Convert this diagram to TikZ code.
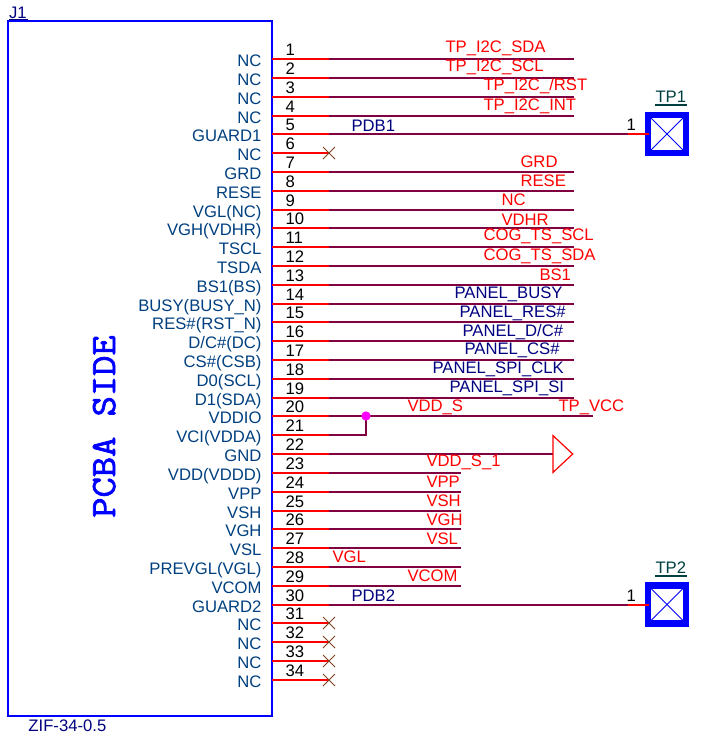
\documentclass[tikz,border=0pt]{standalone}
\usepackage{fontspec}
\setmainfont{Liberation Sans}
\newfontfamily\pcbafont[FakeBold=2.2,FakeStretch=1.11]{Latin Modern Mono}
\usetikzlibrary{shapes.misc}
\definecolor{wirecol}{RGB}{128,0,64}
\definecolor{namecol}{RGB}{0,64,128}
\definecolor{netnavy}{RGB}{0,0,128}
\definecolor{tpcol}{RGB}{0,64,64}
\definecolor{nccol}{RGB}{128,64,32}
\definecolor{dotcol}{RGB}{255,0,255}
\tikzset{every picture/.style={line width=0.75pt}}
\tikzset{
  pintxt/.style={inner sep=0pt,font=\fontsize{12.5}{14}\selectfont},
  pinname/.style={pintxt,anchor=base east,text=namecol},
  pinnum/.style={pintxt,anchor=base west,text=black},
  netred/.style={pintxt,anchor=base west,text=red},
  netblue/.style={pintxt,anchor=base west,text=netnavy},
  pinline/.style={draw=red,line width=1.5pt},
  wire/.style={draw=wirecol,line width=1.5pt},
  ncmark/.style={cross out,draw=nccol,line width=0.6pt,minimum size=9pt,inner sep=0pt,outer sep=0pt},
  tpbox/.style={draw=blue,line width=4.9pt,minimum size=28.6pt,inner sep=0pt,outer sep=0pt},
  tpcross/.style={draw=blue,line width=0.75pt},
}

\begin{document}
\begin{tikzpicture}[x=0.75pt,y=0.75pt,yscale=-1,xscale=1]
\useasboundingbox (0,0) rectangle (709,736);

%Shape: Connector body
\node [draw=blue,line width=1.7pt,minimum width=198pt,minimum height=521.25pt,inner sep=0pt,outer sep=0pt] (J1box) at (140,368.5) {};
\node [inner sep=0pt,rotate=90,anchor=base,text=blue,font=\pcbafont\fontsize{26.6}{30}\selectfont] (side) at (115,426.5) {PCBA SIDE};

% Text Node
\node [pintxt,anchor=base west,text=netnavy] (refJ1) at (8.5,18) {J1};
\draw [netnavy,line width=0.9pt] (refJ1.base west) ++(0,1.8) -- ++(19,0);
\node [pintxt,anchor=base west,text=netnavy] (zif) at (28,731.5) {ZIF-34-0.5};

%Pin ends
\coordinate (a1) at (272,59); \coordinate (b1) at (329,59); \coordinate (c1) at (574,59);
\coordinate (a2) at (272,78); \coordinate (b2) at (329,78); \coordinate (c2) at (574,78);
\coordinate (a3) at (272,97); \coordinate (b3) at (329,97); \coordinate (c3) at (574,97);
\coordinate (a4) at (272,116); \coordinate (b4) at (329,116); \coordinate (c4) at (574,116);
\coordinate (a5) at (272,134); \coordinate (b5) at (329,134); \coordinate (c5) at (628,134);
\coordinate (a6) at (272,153); \coordinate (b6) at (329,153);
\coordinate (a7) at (272,172); \coordinate (b7) at (329,172); \coordinate (c7) at (574,172);
\coordinate (a8) at (272,191); \coordinate (b8) at (329,191); \coordinate (c8) at (574,191);
\coordinate (a9) at (272,210); \coordinate (b9) at (329,210); \coordinate (c9) at (574,210);
\coordinate (a10) at (272,228); \coordinate (b10) at (329,228); \coordinate (c10) at (574,228);
\coordinate (a11) at (272,247); \coordinate (b11) at (329,247); \coordinate (c11) at (574,247);
\coordinate (a12) at (272,266); \coordinate (b12) at (329,266); \coordinate (c12) at (574,266);
\coordinate (a13) at (272,285); \coordinate (b13) at (329,285); \coordinate (c13) at (574,285);
\coordinate (a14) at (272,304); \coordinate (b14) at (329,304); \coordinate (c14) at (574,304);
\coordinate (a15) at (272,322); \coordinate (b15) at (329,322); \coordinate (c15) at (574,322);
\coordinate (a16) at (272,341); \coordinate (b16) at (329,341); \coordinate (c16) at (574,341);
\coordinate (a17) at (272,360); \coordinate (b17) at (329,360); \coordinate (c17) at (574,360);
\coordinate (a18) at (272,379); \coordinate (b18) at (329,379); \coordinate (c18) at (574,379);
\coordinate (a19) at (272,398); \coordinate (b19) at (329,398); \coordinate (c19) at (574,398);
\coordinate (a20) at (272,416); \coordinate (b20) at (329,416); \coordinate (c20) at (592.5,416);
\coordinate (a21) at (272,435); \coordinate (b21) at (329,435); \coordinate (c21) at (366,435);
\coordinate (a22) at (272,454); \coordinate (b22) at (329,454); \coordinate (c22) at (553,454);
\coordinate (a23) at (272,473); \coordinate (b23) at (329,473); \coordinate (c23) at (461,473);
\coordinate (a24) at (272,492); \coordinate (b24) at (329,492); \coordinate (c24) at (461,492);
\coordinate (a25) at (272,511); \coordinate (b25) at (329,511); \coordinate (c25) at (461,511);
\coordinate (a26) at (272,529); \coordinate (b26) at (329,529); \coordinate (c26) at (461,529);
\coordinate (a27) at (272,548); \coordinate (b27) at (329,548); \coordinate (c27) at (461,548);
\coordinate (a28) at (272,567); \coordinate (b28) at (329,567); \coordinate (c28) at (461,567);
\coordinate (a29) at (272,586); \coordinate (b29) at (329,586); \coordinate (c29) at (461,586);
\coordinate (a30) at (272,605); \coordinate (b30) at (329,605); \coordinate (c30) at (628,605);
\coordinate (a31) at (272,623); \coordinate (b31) at (329,623);
\coordinate (a32) at (272,642); \coordinate (b32) at (329,642);
\coordinate (a33) at (272,661); \coordinate (b33) at (329,661);
\coordinate (a34) at (272,680); \coordinate (b34) at (329,680);

%Straight Lines: wires
\draw [wire] (b1) -- (c1);
\draw [wire] (b2) -- (c2);
\draw [wire] (b3) -- (c3);
\draw [wire] (b4) -- (c4);
\draw [wire] (b5) -- (c5);
\draw [wire] (b7) -- (c7);
\draw [wire] (b8) -- (c8);
\draw [wire] (b9) -- (c9);
\draw [wire] (b10) -- (c10);
\draw [wire] (b11) -- (c11);
\draw [wire] (b12) -- (c12);
\draw [wire] (b13) -- (c13);
\draw [wire] (b14) -- (c14);
\draw [wire] (b15) -- (c15);
\draw [wire] (b16) -- (c16);
\draw [wire] (b17) -- (c17);
\draw [wire] (b18) -- (c18);
\draw [wire] (b19) -- (c19);
\draw [wire] (b20) -- (c20);
\draw [wire] (b22) -- (c22);
\draw [wire] (b23) -- (c23);
\draw [wire] (b24) -- (c24);
\draw [wire] (b25) -- (c25);
\draw [wire] (b26) -- (c26);
\draw [wire] (b27) -- (c27);
\draw [wire] (b28) -- (c28);
\draw [wire] (b29) -- (c29);
\draw [wire] (b30) -- (c30);

%Junction of 20 and 21
\coordinate (dot) at (366,416);
\draw [wire] (b21) -- (c21) -- (dot);
\node [circle,fill=dotcol,minimum size=7pt,inner sep=0pt] (jdot) at (dot) {};

%Straight Lines: pins
\draw [pinline] (a1) -- (b1);
\draw [pinline] (a2) -- (b2);
\draw [pinline] (a3) -- (b3);
\draw [pinline] (a4) -- (b4);
\draw [pinline] (a5) -- (b5);
\draw [pinline] (a6) -- (b6);
\draw [pinline] (a7) -- (b7);
\draw [pinline] (a8) -- (b8);
\draw [pinline] (a9) -- (b9);
\draw [pinline] (a10) -- (b10);
\draw [pinline] (a11) -- (b11);
\draw [pinline] (a12) -- (b12);
\draw [pinline] (a13) -- (b13);
\draw [pinline] (a14) -- (b14);
\draw [pinline] (a15) -- (b15);
\draw [pinline] (a16) -- (b16);
\draw [pinline] (a17) -- (b17);
\draw [pinline] (a18) -- (b18);
\draw [pinline] (a19) -- (b19);
\draw [pinline] (a20) -- (b20);
\draw [pinline] (a21) -- (b21);
\draw [pinline] (a22) -- (b22);
\draw [pinline] (a23) -- (b23);
\draw [pinline] (a24) -- (b24);
\draw [pinline] (a25) -- (b25);
\draw [pinline] (a26) -- (b26);
\draw [pinline] (a27) -- (b27);
\draw [pinline] (a28) -- (b28);
\draw [pinline] (a29) -- (b29);
\draw [pinline] (a30) -- (b30);
\draw [pinline] (a31) -- (b31);
\draw [pinline] (a32) -- (b32);
\draw [pinline] (a33) -- (b33);
\draw [pinline] (a34) -- (b34);

%Shape: no connect marks
\node [ncmark] (nc6) at (b6) {};
\node [ncmark] (nc31) at (b31) {};
\node [ncmark] (nc32) at (b32) {};
\node [ncmark] (nc33) at (b33) {};
\node [ncmark] (nc34) at (b34) {};

%Shape: ground triangle
\draw [red,line width=0.9pt] (c22) ++(0,-18.4) -- ++(19.7,18.4) -- ++(-19.7,18.4) -- cycle;

%Shape: TP1
\node [tpbox] (tp1) at (667,134) {};
\draw [tpcross] (tp1.north west) -- (tp1.south east);
\draw [tpcross] (tp1.south west) -- (tp1.north east);
\coordinate (e1) at (649,134);
\draw [pinline] (c5) -- (e1);
%Shape: TP2
\node [tpbox] (tp2) at (667,604.5) {};
\draw [tpcross] (tp2.north west) -- (tp2.south east);
\draw [tpcross] (tp2.south west) -- (tp2.north east);
\coordinate (e2) at (649,605);
\draw [pinline] (c30) -- (e2);

% Text Node
\node [pintxt,anchor=base west,text=tpcol] (reftp1) at (655,102) {TP1};
\draw [tpcol,line width=0.9pt] (reftp1.base west) ++(0,3) -- ++(32,0);
\node [pintxt,anchor=base west,text=tpcol] (reftp2) at (655,573) {TP2};
\draw [tpcol,line width=0.9pt] (reftp2.base west) ++(0,3) -- ++(32,0);
\node [pinnum] (one1) at (626,130) {1};
\node [pinnum] (one2) at (626,601) {1};

% Pin numbers
\node [pinnum] (n1) at (285,55) {1};
\node [pinnum] (n2) at (285,74) {2};
\node [pinnum] (n3) at (285,93) {3};
\node [pinnum] (n4) at (285,112) {4};
\node [pinnum] (n5) at (285,130) {5};
\node [pinnum] (n6) at (285,149) {6};
\node [pinnum] (n7) at (285,168) {7};
\node [pinnum] (n8) at (285,187) {8};
\node [pinnum] (n9) at (285,206) {9};
\node [pinnum] (n10) at (285,224) {10};
\node [pinnum] (n11) at (285,243) {11};
\node [pinnum] (n12) at (285,262) {12};
\node [pinnum] (n13) at (285,281) {13};
\node [pinnum] (n14) at (285,300) {14};
\node [pinnum] (n15) at (285,318) {15};
\node [pinnum] (n16) at (285,337) {16};
\node [pinnum] (n17) at (285,356) {17};
\node [pinnum] (n18) at (285,375) {18};
\node [pinnum] (n19) at (285,394) {19};
\node [pinnum] (n20) at (285,412) {20};
\node [pinnum] (n21) at (285,431) {21};
\node [pinnum] (n22) at (285,450) {22};
\node [pinnum] (n23) at (285,469) {23};
\node [pinnum] (n24) at (285,488) {24};
\node [pinnum] (n25) at (285,507) {25};
\node [pinnum] (n26) at (285,525) {26};
\node [pinnum] (n27) at (285,544) {27};
\node [pinnum] (n28) at (285,563) {28};
\node [pinnum] (n29) at (285,582) {29};
\node [pinnum] (n30) at (285,601) {30};
\node [pinnum] (n31) at (285,619) {31};
\node [pinnum] (n32) at (285,638) {32};
\node [pinnum] (n33) at (285,657) {33};
\node [pinnum] (n34) at (285,676) {34};

% Pin names
\node [pinname] (t1) at (262,66.4) {NC};
\node [pinname] (t2) at (262,85.4) {NC};
\node [pinname] (t3) at (262,104.4) {NC};
\node [pinname] (t4) at (262,123.4) {NC};
\node [pinname] (t5) at (262,141.4) {GUARD1};
\node [pinname] (t6) at (262,160.4) {NC};
\node [pinname] (t7) at (262,179.4) {GRD};
\node [pinname] (t8) at (262,198.4) {RESE};
\node [pinname] (t9) at (262,217.4) {VGL(NC)};
\node [pinname] (t10) at (262,235.4) {VGH(VDHR)};
\node [pinname] (t11) at (262,254.4) {TSCL};
\node [pinname] (t12) at (262,273.4) {TSDA};
\node [pinname] (t13) at (262,292.4) {BS1(BS)};
\node [pinname] (t14) at (262,311.4) {BUSY(BUSY\_N)};
\node [pinname] (t15) at (262,329.4) {RES\#(RST\_N)};
\node [pinname] (t16) at (262,348.4) {D/C\#(DC)};
\node [pinname] (t17) at (262,367.4) {CS\#(CSB)};
\node [pinname] (t18) at (262,386.4) {D0(SCL)};
\node [pinname] (t19) at (262,405.4) {D1(SDA)};
\node [pinname] (t20) at (262,423.4) {VDDIO};
\node [pinname] (t21) at (262,442.4) {VCI(VDDA)};
\node [pinname] (t22) at (262,461.4) {GND};
\node [pinname] (t23) at (262,480.4) {VDD(VDDD)};
\node [pinname] (t24) at (262,499.4) {VPP};
\node [pinname] (t25) at (262,518.4) {VSH};
\node [pinname] (t26) at (262,536.4) {VGH};
\node [pinname] (t27) at (262,555.4) {VSL};
\node [pinname] (t28) at (262,574.4) {PREVGL(VGL)};
\node [pinname] (t29) at (262,593.4) {VCOM};
\node [pinname] (t30) at (262,612.4) {GUARD2};
\node [pinname] (t31) at (262,630.4) {NC};
\node [pinname] (t32) at (262,649.4) {NC};
\node [pinname] (t33) at (262,668.4) {NC};
\node [pinname] (t34) at (262,687.4) {NC};

% Net labels
\node [netred] (net1) at (445,52.6) {TP\_I2C\_SDA};
\node [netred] (net2) at (445,71.6) {TP\_I2C\_SCL};
\node [netred] (net3) at (483,90.6) {TP\_I2C\_/RST};
\node [netred] (net4) at (483,110) {TP\_I2C\_INT};
\node [netblue] (net5) at (351,131) {PDB1};
\node [netred] (net7) at (520,167.6) {GRD};
\node [netred] (net8) at (520,186.6) {RESE};
\node [netred] (net9) at (501,205.6) {NC};
\node [netred] (net10) at (501,225) {VDHR};
\node [netred] (net11) at (483,240.6) {COG\_TS\_SCL};
\node [netred] (net12) at (483,260) {COG\_TS\_SDA};
\node [netred] (net13) at (539,280) {BS1};
\node [netblue] (net14) at (454,298) {PANEL\_BUSY};
\node [netblue] (net15) at (459,317) {PANEL\_RES\#};
\node [netblue] (net16) at (462,336) {PANEL\_D/C\#};
\node [netblue] (net17) at (464,354.5) {PANEL\_CS\#};
\node [netblue] (net18) at (432,373) {PANEL\_SPI\_CLK};
\node [netblue] (net19) at (449,392) {PANEL\_SPI\_SI};
\node [netred] (net20) at (407,411) {VDD\_S};
\node [netred] (net20b) at (558,411) {TP\_VCC};
\node [netred] (net23) at (426,466.6) {VDD\_S\_1};
\node [netred] (net24) at (426,487) {VPP};
\node [netred] (net25) at (426,506) {VSH};
\node [netred] (net26) at (426,525) {VGH};
\node [netred] (net27) at (426,544) {VSL};
\node [netred] (net28) at (332,562.6) {VGL};
\node [netred] (net29) at (407,581.6) {VCOM};
\node [netblue] (net30) at (351,601) {PDB2};

\end{tikzpicture}
\end{document}
